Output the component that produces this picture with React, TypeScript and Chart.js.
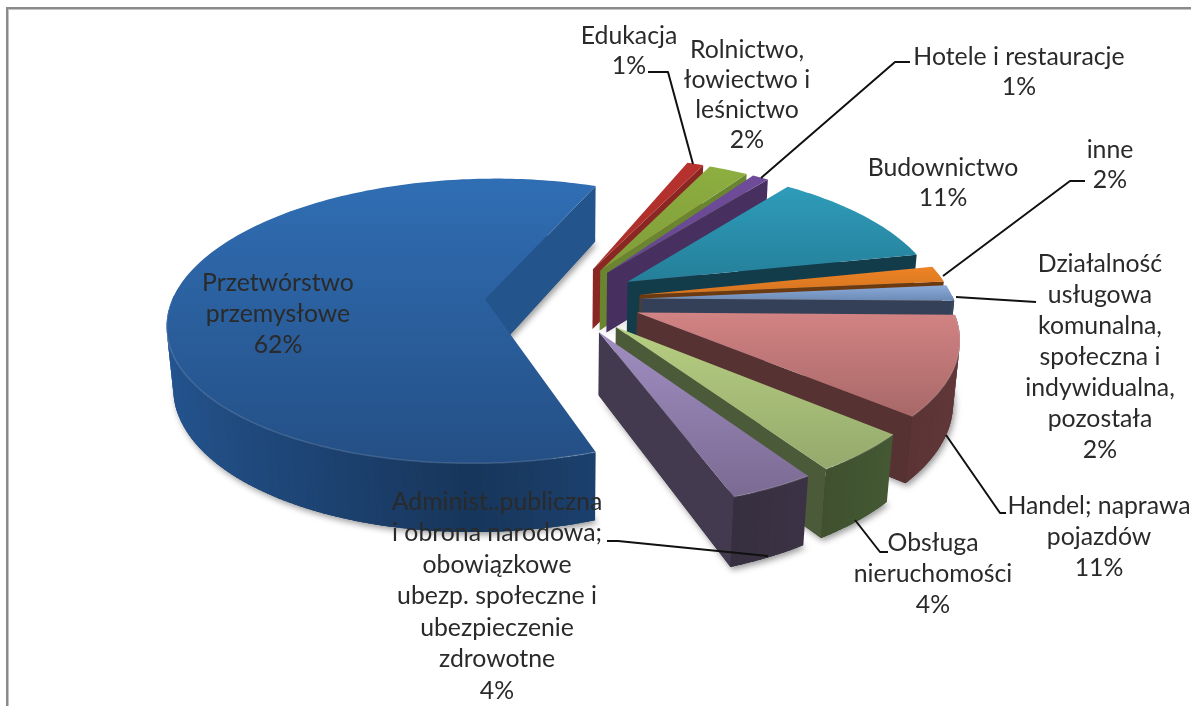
import React, { useEffect, useRef } from "react";
import { Chart, registerables } from "chart.js";

Chart.register(...registerables);

const categories = [
  "Przetwórstwo\nprzemysłowe",
  "Edukacja",
  "Rolnictwo,\nłowiectwo i\nleśnictwo",
  "Hotele i restauracje",
  "Budownictwo",
  "inne",
  "Działalność\nusługowa\nkomunalna,\nspołeczna i\nindywidualna,\npozostała",
  "Handel; naprawa\npojazdów",
  "Obsługa\nnieruchomości",
  "Administ..publiczna\ni obrona narodowa;\nobowiązkowe\nubezp. społeczne i\nubezpieczenie\nzdrowotne",
];
// Estimated shares (the slices' sizes); the labels show them rounded.
const values = [61.5, 1, 2.4, 1, 11.25, 1.8, 1.8, 11.1, 4.45, 3.7];

const topLight = ["#306eb4", "#b8322e", "#8dae40", "#6f4c9a", "#2e9cba", "#ee8426", "#8dabd9", "#d28383", "#b7cf82", "#a08ec2"];
const topDark = ["#244f85", "#a92e2a", "#7f9d3a", "#654690", "#257f99", "#d5741f", "#6b8ab5", "#a86868", "#94a96c", "#7b6a92"];
const faceColors = ["#24548c", "#8a2723", "#6a8530", "#47305f", "#133c4b", "#6b3a10", "#344057", "#573233", "#4b5a38", "#433a50"];
const wallColors = ["#1b3f6b", "#6e1f1c", "#55692a", "#3a274e", "#0f303c", "#55300d", "#2a3446", "#4a2a2b", "#38482a", "#352e3e"];

// placement of the text boxes: centre x, first line middle y, line height
const labelBoxes = [
  [278, 283, 31], [629, 36, 30], [747, 50, 30], [1019, 57, 30], [943, 168, 30],
  [1110, 150, 30], [1100, 264, 31], [1099, 506, 31], [933, 543, 31], [497, 502, 31.5],
];
const leaders: number[][][] = [
  [],
  [[648, 72], [668, 72], [693, 164]],
  [],
  [[910, 62], [895, 62], [761, 178]],
  [],
  [[1085, 181], [1070, 181], [943, 276]],
  [[956, 297], [1036, 302]],
  [[946, 435], [1000, 513], [1006, 513]],
  [[855, 520], [880, 552], [888, 552]],
  [[607, 541], [618, 541], [768, 556]],
];

const EXPLODE = 78;
const D = 5.92;
const SIN_T = 0.445;
const COS_T = 0.8955;
const H = 0.222;

function shade(hex: string, f: number) {
  const n = parseInt(hex.slice(1), 16);
  const c = (v: number) => Math.max(0, Math.min(255, Math.round(v * f)));
  return `rgb(${c((n >> 16) & 255)},${c((n >> 8) & 255)},${c(n & 255)})`;
}

const pie3d = {
  id: "pie3d",
  beforeDatasetsDraw(chart: any) {
    const ctx: CanvasRenderingContext2D = chart.ctx;
    ctx.save();
    ctx.fillStyle = "#8a8a8a";
    ctx.fillRect(6, 7, 1185, 2);
    ctx.fillRect(6, 7, 2, 699);
    ctx.fillStyle = "#c4c4c4";
    ctx.fillRect(8, 9, 1183, 1);
    ctx.fillRect(8, 9, 1, 697);

    const meta = chart.getDatasetMeta(0);
    meta.data.forEach((arc: any, i: number) => {
      const { x: cx, y: cy, startAngle, endAngle, outerRadius: R } = arc;
      const off = arc.options.offset / R;
      const mid = (startAngle + endAngle) / 2;
      const ox = Math.cos(mid) * off;
      const oy = Math.sin(mid) * off;
      const project = (X: number, Y: number, Z: number) => {
        const w = D - (Y * COS_T + Z * SIN_T);
        const s = (R * D) / w;
        return [cx + X * s, cy + (Y * SIN_T - Z * COS_T) * s];
      };
      const P = (a: number, r: number, Z: number) =>
        project(ox + r * Math.cos(a), oy + r * Math.sin(a), Z);
      const steps = Math.max(4, Math.ceil((endAngle - startAngle) / 0.02));
      const ang = (k: number) => startAngle + ((endAngle - startAngle) * k) / steps;

      const topPts: number[][] = [P(0, 0, 0)];
      const botPts: number[][] = [P(0, 0, -H)];
      for (let k = 0; k <= steps; k++) {
        topPts.push(P(ang(k), 1, 0));
        botPts.push(P(ang(k), 1, -H));
      }
      const trace = (pts: number[][]) => {
        ctx.beginPath();
        pts.forEach((p, j) => (j ? ctx.lineTo(p[0], p[1]) : ctx.moveTo(p[0], p[1])));
        ctx.closePath();
      };

      // soft shadow under the solid
      ctx.save();
      ctx.shadowColor = "rgba(0,0,0,0.4)";
      ctx.shadowBlur = 6;
      ctx.shadowOffsetX = 2;
      ctx.shadowOffsetY = 3;
      ctx.fillStyle = wallColors[i];
      trace(botPts);
      ctx.fill();
      ctx.restore();

      // radial face at the clockwise end
      const a0 = P(0, 0, 0), b0 = P(0, 0, -H), a1 = P(endAngle, 1, 0), b1 = P(endAngle, 1, -H);
      ctx.fillStyle = faceColors[i];
      trace([a0, a1, b1, b0]);
      ctx.fill();

      // outer wall, only where it faces the viewer
      for (let k = 0; k < steps; k++) {
        const m = (ang(k) + ang(k + 1)) / 2;
        if (Math.sin(m) < -0.02) continue;
        const f = 0.85 + 0.5 * Math.abs(Math.cos(m));
        const end = Math.min(k + 1.6, steps);
        ctx.fillStyle = shade(wallColors[i], f);
        trace([P(ang(k), 1, 0), P(ang(end), 1, 0), P(ang(end), 1, -H), P(ang(k), 1, -H)]);
        ctx.fill();
      }

      // top surface
      let yMin = 1e9, yMax = -1e9;
      topPts.forEach((p) => { yMin = Math.min(yMin, p[1]); yMax = Math.max(yMax, p[1]); });
      const g = ctx.createLinearGradient(0, yMin, 0, yMax);
      g.addColorStop(0, topLight[i]);
      g.addColorStop(1, topDark[i]);
      ctx.fillStyle = g;
      trace(topPts);
      ctx.fill();

      // light bevel along the near rim
      ctx.strokeStyle = "rgba(255,255,255,0.14)";
      ctx.lineWidth = 1.5;
      ctx.beginPath();
      let pen = false;
      for (let k = 0; k <= steps; k++) {
        if (Math.sin(ang(k)) < 0) { pen = false; continue; }
        const p = P(ang(k), 1, 0);
        if (pen) ctx.lineTo(p[0], p[1]); else ctx.moveTo(p[0], p[1]);
        pen = true;
      }
      ctx.stroke();
    });

    // labels and leader lines
    ctx.strokeStyle = "#111";
    ctx.lineWidth = 2;
    ctx.lineJoin = "round";
    leaders.forEach((pts) => {
      if (!pts.length) return;
      ctx.beginPath();
      pts.forEach((p, j) => (j ? ctx.lineTo(p[0], p[1]) : ctx.moveTo(p[0], p[1])));
      ctx.stroke();
    });
    ctx.font = "24.8px Lato";
    ctx.fillStyle = "#2a2a2a";
    ctx.textAlign = "center";
    ctx.textBaseline = "middle";
    categories.forEach((c, i) => {
      const lines = [...c.split("\n"), `${Math.round(values[i])}%`];
      const [x, y, lh] = labelBoxes[i];
      lines.forEach((t, j) => ctx.fillText(t, x, y + j * lh));
    });
    ctx.restore();
    return false;
  },
};

export default function App() {
  const ref = useRef<HTMLCanvasElement>(null);
  useEffect(() => {
    const chart = new Chart(ref.current!, {
      type: "pie",
      data: {
        labels: categories,
        datasets: [{ data: values, backgroundColor: topLight, offset: EXPLODE, borderWidth: 0 }],
      },
      options: {
        animation: false,
        responsive: false,
        devicePixelRatio: 1,
        rotation: 160.2,
        radius: 313,
        layout: { padding: { right: 65, bottom: 106 } },
        plugins: { legend: { display: false }, tooltip: { enabled: false } },
      } as any,
      plugins: [pie3d as any],
    });
    return () => chart.destroy();
  }, []);
  return (
    <div style={{ position: "fixed", left: 0, top: 0, width: 1191, height: 706, background: "#fff" }}>
      <canvas ref={ref} width={1191} height={706} style={{ display: "block" }} />
    </div>
  );
}
